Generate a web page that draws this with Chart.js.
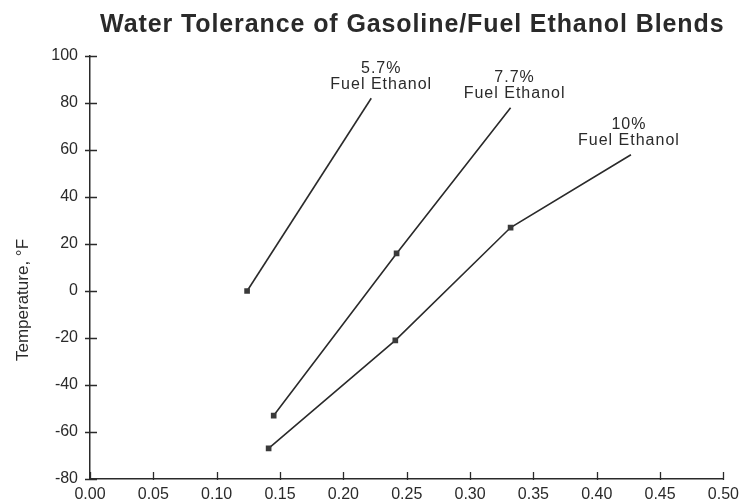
<!DOCTYPE html>
<html>
<head>
<meta charset="utf-8">
<script src="https://cdn.jsdelivr.net/npm/chart.js@4.4.0/dist/chart.umd.min.js"></script>
<style>
  html, body { margin: 0; padding: 0; background: #fff; }
  #wrap { width: 745px; height: 502px; }
</style>
</head>
<body>
<div id="wrap"><canvas id="graph"></canvas></div>
<script>
// values (x = water, y = temperature °F)
const chart_title = 'Water Tolerance of Gasoline/Fuel Ethanol Blends';
const y_title = 'Temperature, °F';
const series_names = ['5.7%', '7.7%', '10%'];
const series_sub = 'Fuel Ethanol';
const blend_57 = [{x: 0.124, y: 0}, {x: 0.222, y: 82}];
const blend_77 = [{x: 0.145, y: -53}, {x: 0.242, y: 16}, {x: 0.332, y: 78}];
const blend_10 = [{x: 0.141, y: -67}, {x: 0.241, y: -21}, {x: 0.332, y: 27}, {x: 0.427, y: 58}];
const x_ticks = [0, 0.05, 0.10, 0.15, 0.20, 0.25, 0.30, 0.35, 0.40, 0.45, 0.50];
const y_ticks = [-80, -60, -40, -20, 0, 20, 40, 60, 80, 100];

const FONT = "'Liberation Sans', Arial, Helvetica, sans-serif";
const INK = '#2a2a2a';

// title, tick marks across the axes, y title and the labels at the end of each line
const extras = {
  id: 'extras',
  afterDraw(chart) {
    const c = chart.ctx;
    const xs = chart.scales.x, ys = chart.scales.y;

    c.save();
    c.fillStyle = INK;
    c.font = 'bold 25px ' + FONT;
    c.letterSpacing = '0.9px';
    c.textAlign = 'right';
    c.textBaseline = 'alphabetic';
    c.fillText(chart_title, xs.right + 1, 32);
    c.restore();

    c.save();
    c.strokeStyle = INK;
    c.lineWidth = 1.3;
    c.beginPath();
    for (const v of x_ticks) {
      const px = Math.round(xs.getPixelForValue(v)) + 0.5;
      c.moveTo(px, ys.bottom - 7);
      c.lineTo(px, ys.bottom + 1);
    }
    for (const v of y_ticks) {
      const py = Math.round(ys.getPixelForValue(v)) + 0.5;
      c.moveTo(xs.left - 5, py);
      c.lineTo(xs.left + 7, py);
    }
    c.stroke();

    c.fillStyle = INK;
    c.font = '17px ' + FONT;
    c.textAlign = 'center';
    c.textBaseline = 'middle';
    c.translate(23, 300);
    c.rotate(-Math.PI / 2);
    c.fillText(y_title, 0, 0);
    c.restore();

    c.save();
    c.fillStyle = INK;
    c.font = '16px ' + FONT;
    c.letterSpacing = '1px';
    c.textAlign = 'center';
    c.textBaseline = 'middle';
    chart.data.datasets.forEach((ds, i) => {
      const end = ds.data[ds.data.length - 1];
      const px = xs.getPixelForValue(end.x) + ds.labelDx;
      const py = ys.getPixelForValue(end.y);
      c.fillText(series_names[i], px, py - 30);
      c.fillText(series_sub, px, py - 14);
    });
    c.restore();
  }
};

function make_set(name, data, dx) {
  return {
    label: name,
    data: data,
    labelDx: dx,
    borderColor: INK,
    backgroundColor: '#3a3a3a',
    borderWidth: 1.6,
    tension: 0,
    pointStyle: 'rect',
    pointRadius: (ctx) => ctx.dataIndex === ctx.dataset.data.length - 1 ? 0 : 4,
    pointBorderWidth: 0
  };
}

const graph = document.getElementById('graph').getContext('2d');

var config_graph = {
  type: 'line',
  data: {
    datasets: [
      make_set(series_names[0], blend_57, 10),
      make_set(series_names[1], blend_77, 4),
      make_set(series_names[2], blend_10, -2)
    ]
  },
  options: {
    responsive: true,
    maintainAspectRatio: false,
    animation: false,
    events: [],
    layout: { padding: { left: 0, right: 17.5, top: 56, bottom: 0 } },
    plugins: {
      legend: { display: false },
      tooltip: { enabled: false },
      title: { display: false }
    },
    scales: {
      x: {
        type: 'linear',
        min: 0,
        max: 0.5,
        afterFit: (scale) => { scale.height = 23; },
        afterBuildTicks: (scale) => { scale.ticks = x_ticks.map(v => ({value: v})); },
        ticks: {
          color: INK,
          font: { family: FONT, size: 16 },
          padding: 6,
          maxRotation: 0,
          callback: (v) => Number(v).toFixed(2)
        },
        grid: { display: false, drawTicks: false },
        border: { display: true, color: INK, width: 1.5 }
      },
      y: {
        type: 'linear',
        min: -80,
        max: 100,
        afterFit: (scale) => { scale.width = 90; },
        afterBuildTicks: (scale) => { scale.ticks = y_ticks.map(v => ({value: v})); },
        ticks: {
          color: INK,
          font: { family: FONT, size: 16 },
          padding: 12
        },
        grid: { display: false, drawTicks: false },
        border: { display: true, color: INK, width: 1.5 }
      }
    }
  },
  plugins: [extras]
};

let graph1 = new Chart(graph, config_graph);
</script>
</body>
</html>
